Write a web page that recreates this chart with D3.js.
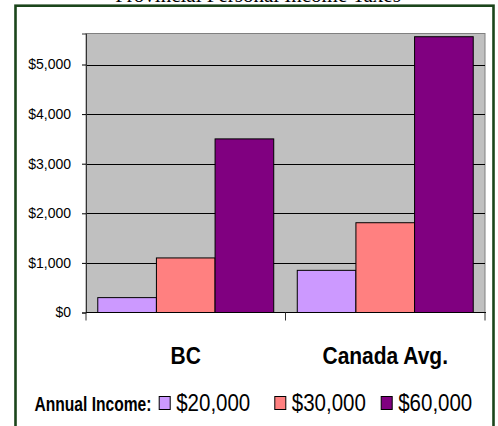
<!DOCTYPE html>
<html>
<head>
<meta charset="utf-8">
<script src="https://cdn.jsdelivr.net/npm/d3@7"></script>
<style>
  body { margin: 0; background: #fff; }
  svg { display: block; }
</style>
</head>
<body>
<div id="chart"></div>
<script>
const categories = ["BC", "Canada Avg."];
const incomes = ["$20,000", "$30,000", "$60,000"];
const bcTax = [300, 1100, 3500];
const canadaTax = [850, 1810, 5560];
const yTicks = [0, 1000, 2000, 3000, 4000, 5000];
const colors = ["#CC99FF", "#FF8080", "#800080"];

const width = 498;
const height = 426;
const plot = {left: 86, right: 485, top: 33.5, bottom: 312.5};

const rows = categories.map((c, i) => ({
  name: c,
  values: [bcTax, canadaTax][i].map((v, j) => ({income: incomes[j], value: v}))
}));

const svg = d3.select("#chart").append("svg")
    .attr("width", width)
    .attr("height", height);

// title, mostly cropped off the top
svg.append("text")
    .attr("x", 258).attr("y", 2)
    .attr("text-anchor", "middle")
    .style("font", "21px 'Liberation Serif', 'Times New Roman', serif")
    .text("Provincial Personal Income Taxes");

// frame
svg.append("rect")
    .attr("x", 15.5).attr("y", 5.7)
    .attr("width", 478).attr("height", 440)
    .attr("fill", "none")
    .attr("stroke", "#1b451b")
    .attr("stroke-width", 2.6);

const x0 = d3.scaleBand()
    .domain(categories)
    .range([plot.left, plot.right])
    .paddingInner(0.118)
    .paddingOuter(0.059);

const x1 = d3.scaleBand()
    .domain(incomes)
    .range([0, x0.bandwidth()]);

const y = d3.scaleLinear()
    .domain([0, 5625])
    .range([plot.bottom, plot.top]);

const color = d3.scaleOrdinal().domain(incomes).range(colors);

// plot area
svg.append("rect")
    .attr("x", plot.left).attr("y", plot.top)
    .attr("width", plot.right - plot.left)
    .attr("height", plot.bottom - plot.top)
    .attr("fill", "#C0C0C0")
    .attr("stroke", "#808080")
    .attr("stroke-width", 1);

// gridlines
svg.append("g")
  .selectAll("line")
  .data(yTicks.filter(d => d > 0))
  .join("line")
    .attr("x1", plot.left).attr("x2", plot.right)
    .attr("y1", d => Math.round(y(d)) + 0.5)
    .attr("y2", d => Math.round(y(d)) + 0.5)
    .attr("stroke", "#000");

// bars
svg.append("g")
  .selectAll("g")
  .data(rows)
  .join("g")
    .attr("transform", d => `translate(${x0(d.name)},0)`)
  .selectAll("rect")
  .data(d => d.values)
  .join("rect")
    .attr("x", d => x1(d.income))
    .attr("y", d => y(d.value))
    .attr("width", x1.bandwidth())
    .attr("height", d => y(0) - y(d.value))
    .attr("fill", d => color(d.income))
    .attr("stroke", "#000")
    .attr("stroke-width", 1);

// y axis
const yAxis = svg.append("g")
    .attr("transform", `translate(${plot.left},0)`)
    .call(d3.axisLeft(y).tickValues(yTicks).tickSize(4).tickPadding(11)
      .tickFormat(d => "$" + d3.format(",")(d)));
yAxis.select(".domain").attr("stroke", "#333");
yAxis.selectAll("text")
    .style("font", "14px 'Liberation Sans', Arial, sans-serif")
    .attr("fill", "#000");

// x axis line with ticks at category boundaries
const xBounds = [plot.left, (x0(categories[0]) + x0.bandwidth() + x0(categories[1])) / 2, plot.right];
svg.append("line")
    .attr("x1", plot.left).attr("x2", plot.right + 1)
    .attr("y1", plot.bottom).attr("y2", plot.bottom)
    .attr("stroke", "#000");
svg.append("g")
  .selectAll("line")
  .data(xBounds)
  .join("line")
    .attr("x1", d => d).attr("x2", d => d)
    .attr("y1", plot.bottom).attr("y2", plot.bottom + 8)
    .attr("stroke", "#333");

// category labels
svg.append("g")
  .selectAll("text")
  .data(categories)
  .join("text")
    .attr("transform", d => `translate(${x0(d) + x0.bandwidth() / 2},363.5) scale(1,1.15)`)
    .attr("text-anchor", "middle")
    .style("font", "bold 21px 'Liberation Sans', Arial, sans-serif")
    .text(d => d);

// legend
const legend = svg.append("g");
legend.append("text")
    .attr("transform", "translate(34.5,411) scale(0.78,1.05)")
    .style("font", "bold 20px 'Liberation Sans', Arial, sans-serif")
    .text("Annual Income:");

const legendX = [158.7, 274.3, 380.7];
const items = legend.selectAll("g.item")
  .data(incomes)
  .join("g")
    .attr("class", "item")
    .attr("transform", (d, i) => `translate(${legendX[i]},0)`);
items.append("rect")
    .attr("x", 0.5).attr("y", 396.5)
    .attr("width", 11).attr("height", 13)
    .attr("fill", d => color(d))
    .attr("stroke", "#000");
items.append("text")
    .attr("transform", "translate(17.5,411) scale(1,1.15)")
    .style("font", "20.5px 'Liberation Sans', Arial, sans-serif")
    .text(d => d);
</script>
</body>
</html>
